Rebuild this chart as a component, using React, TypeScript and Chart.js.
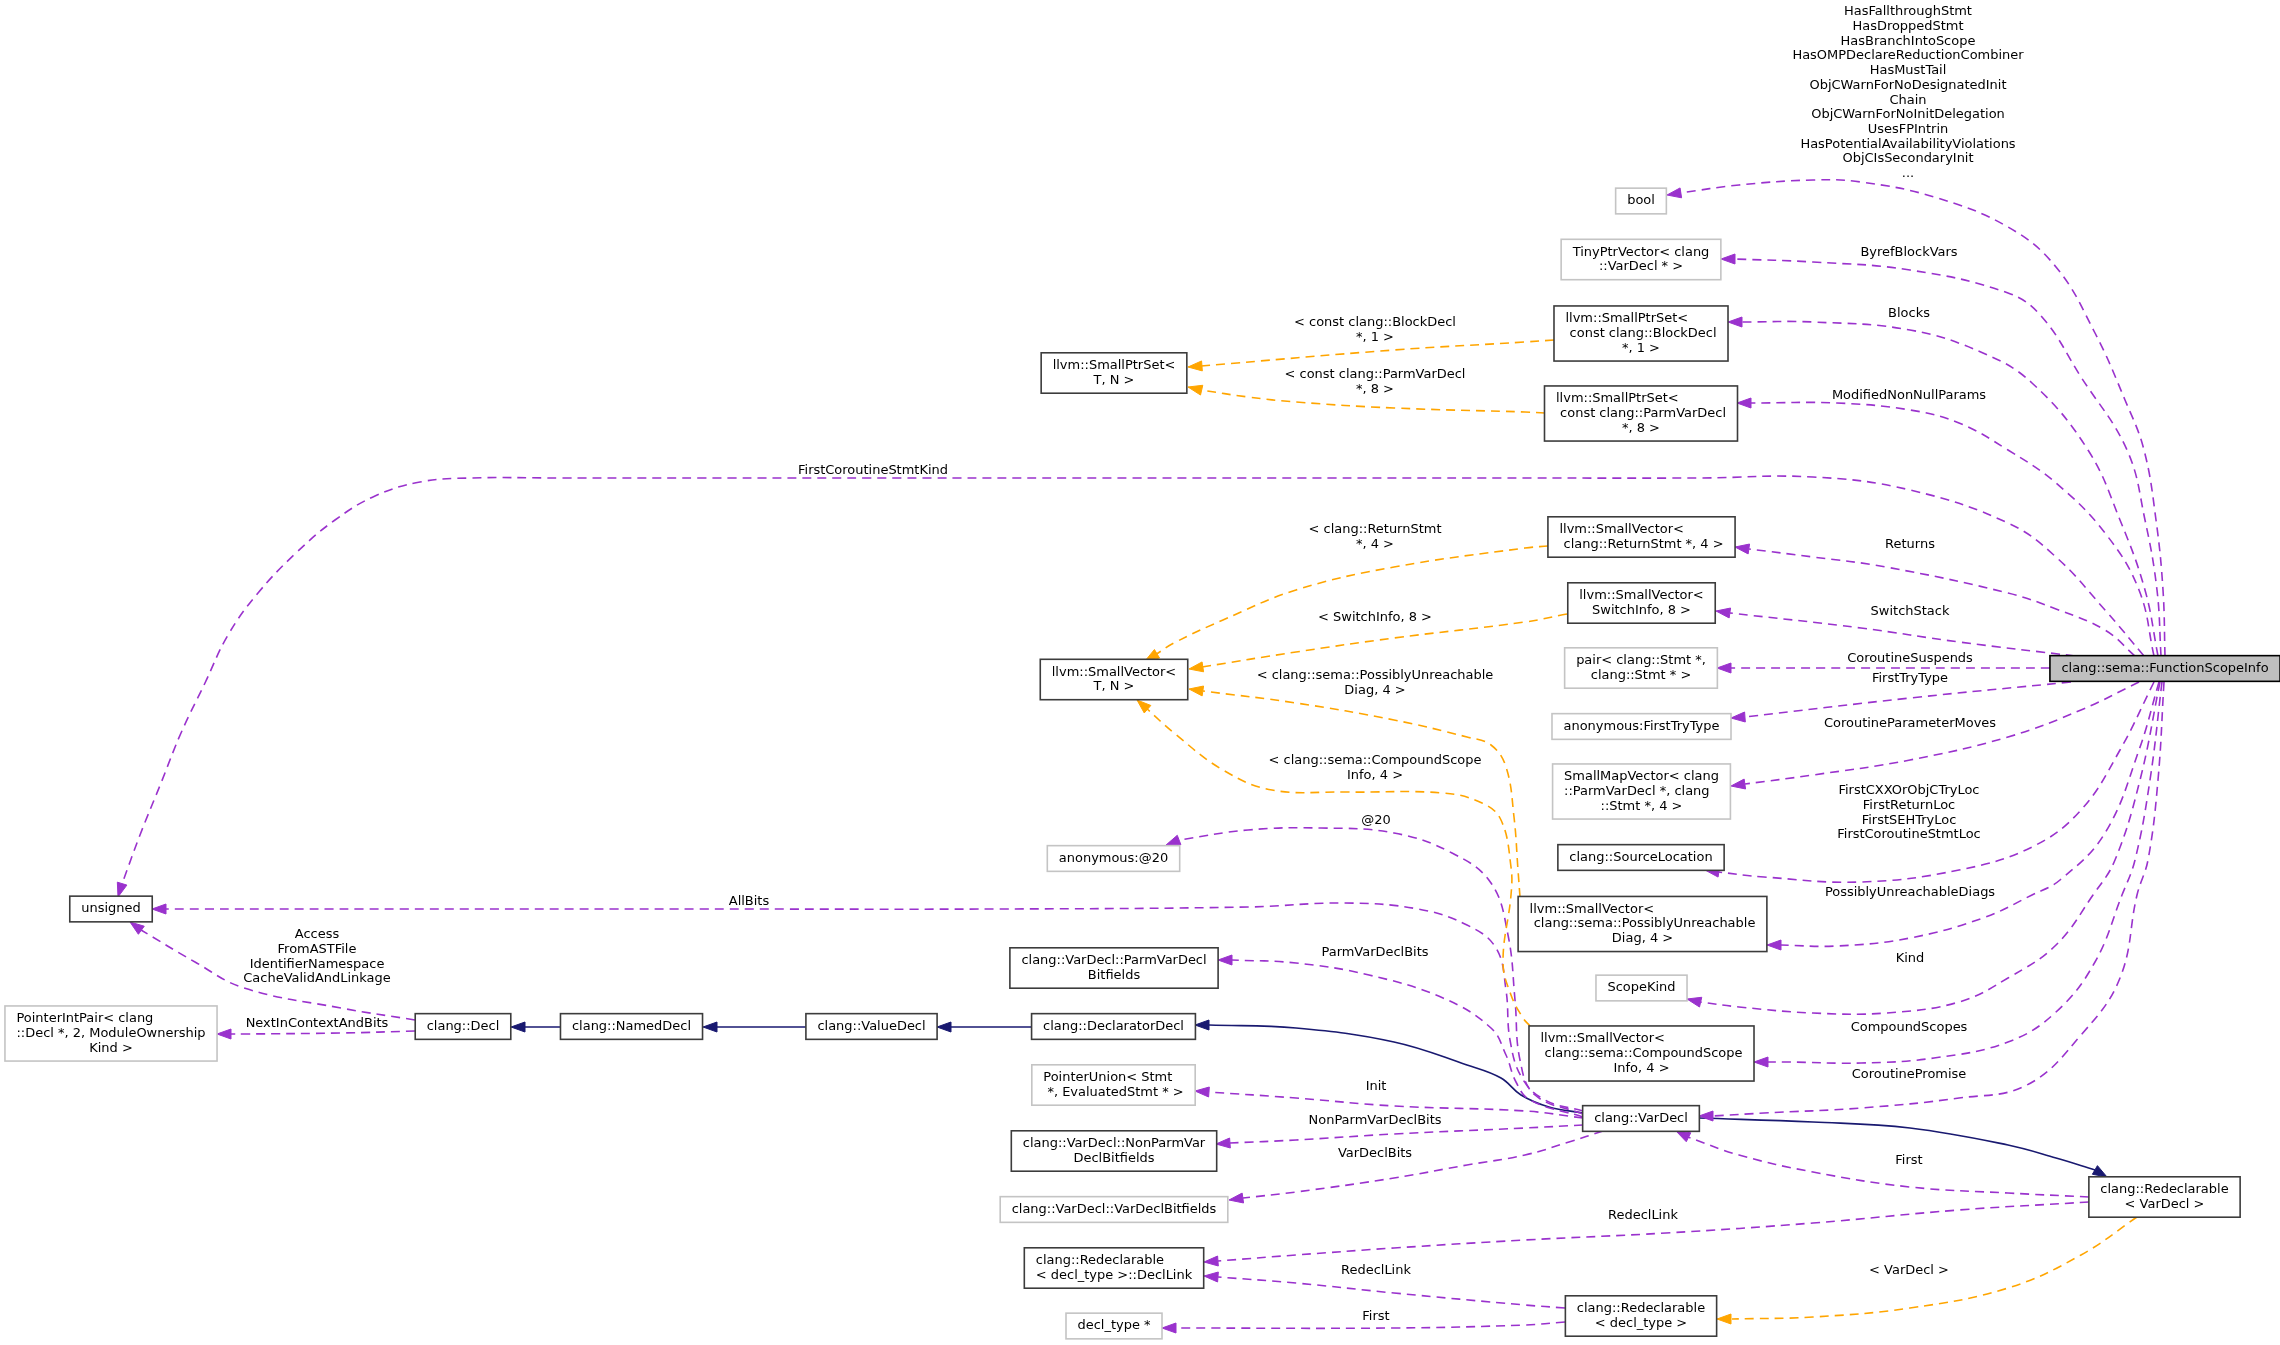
import React, { useEffect, useRef } from "react";
import { Chart, registerables, ChartConfiguration, Plugin } from "chart.js";

Chart.register(...registerables);

// ---- graph content -------------------------------------------------------

// nodes of the collaboration diagram
const nodeIds = [
  "fsi", "bool", "tinyptr", "spsBlock", "spsParm", "spsTN", "svRet", "svSwitch",
  "pair", "anonFtt", "smallMap", "srcLoc", "svPud", "scopeKind", "svCsi", "varDecl",
  "redeclVd", "redeclDt", "svTN", "anon20", "pvdBits", "declarator", "ptrUnion",
  "npvdBits", "vdBits", "declLink", "declType", "valueDecl", "namedDecl", "decl",
  "unsigned", "pip",
];

const nodeLabels: string[][] = [
  ["clang::sema::FunctionScopeInfo"],
  ["bool"],
  ["TinyPtrVector< clang", "::VarDecl * >"],
  ["llvm::SmallPtrSet<", " const clang::BlockDecl", "*, 1 >"],
  ["llvm::SmallPtrSet<", " const clang::ParmVarDecl", "*, 8 >"],
  ["llvm::SmallPtrSet<", "T, N >"],
  ["llvm::SmallVector<", " clang::ReturnStmt *, 4 >"],
  ["llvm::SmallVector<", "SwitchInfo, 8 >"],
  ["pair< clang::Stmt *,", "clang::Stmt * >"],
  ["anonymous:FirstTryType"],
  ["SmallMapVector< clang", "::ParmVarDecl *, clang", "::Stmt *, 4 >"],
  ["clang::SourceLocation"],
  ["llvm::SmallVector<", " clang::sema::PossiblyUnreachable", "Diag, 4 >"],
  ["ScopeKind"],
  ["llvm::SmallVector<", " clang::sema::CompoundScope", "Info, 4 >"],
  ["clang::VarDecl"],
  ["clang::Redeclarable", "< VarDecl >"],
  ["clang::Redeclarable", "< decl_type >"],
  ["llvm::SmallVector<", "T, N >"],
  ["anonymous:@20"],
  ["clang::VarDecl::ParmVarDecl", "Bitfields"],
  ["clang::DeclaratorDecl"],
  ["PointerUnion< Stmt", " *, EvaluatedStmt * >"],
  ["clang::VarDecl::NonParmVar", "DeclBitfields"],
  ["clang::VarDecl::VarDeclBitfields"],
  ["clang::Redeclarable", "< decl_type >::DeclLink"],
  ["decl_type *"],
  ["clang::ValueDecl"],
  ["clang::NamedDecl"],
  ["clang::Decl"],
  ["unsigned"],
  ["PointerIntPair< clang", "::Decl *, 2, ModuleOwnership", "Kind >"],
];

// focus = the documented class itself, doc = documented, undoc = not documented
const nodeKinds = [
  "focus", "undoc", "undoc", "doc", "doc", "doc", "doc", "doc",
  "undoc", "undoc", "undoc", "doc", "doc", "undoc", "doc", "doc",
  "doc", "doc", "doc", "undoc", "doc", "doc", "undoc",
  "doc", "undoc", "doc", "undoc", "doc", "doc", "doc",
  "doc", "undoc",
];

// edges: member (purple), template (orange), inherit (blue)
const edgeKinds = [
  "member", "member", "member", "member", "member", "member", "member", "member",
  "member", "member", "member", "member", "member", "member", "member",
  "template", "template", "template", "template", "template", "template", "template",
  "member", "member", "member", "inherit", "member", "member", "member", "inherit",
  "member", "member", "member", "member", "member", "member",
  "inherit", "inherit", "inherit",
];

const edgeLabels: string[][] = [
  [
    "HasFallthroughStmt", "HasDroppedStmt", "HasBranchIntoScope",
    "HasOMPDeclareReductionCombiner", "HasMustTail", "ObjCWarnForNoDesignatedInit",
    "Chain", "ObjCWarnForNoInitDelegation", "UsesFPIntrin",
    "HasPotentialAvailabilityViolations", "ObjCIsSecondaryInit", "...",
  ],
  ["ByrefBlockVars"],
  ["Blocks"],
  ["ModifiedNonNullParams"],
  ["FirstCoroutineStmtKind"],
  ["Returns"],
  ["SwitchStack"],
  ["CoroutineSuspends"],
  ["FirstTryType"],
  ["CoroutineParameterMoves"],
  ["FirstCXXOrObjCTryLoc", "FirstReturnLoc", "FirstSEHTryLoc", "FirstCoroutineStmtLoc"],
  ["PossiblyUnreachableDiags"],
  ["Kind"],
  ["CompoundScopes"],
  ["CoroutinePromise"],
  ["< const clang::BlockDecl", "*, 1 >"],
  ["< const clang::ParmVarDecl", "*, 8 >"],
  ["< clang::ReturnStmt", "*, 4 >"],
  ["< SwitchInfo, 8 >"],
  ["< clang::sema::PossiblyUnreachable", "Diag, 4 >"],
  ["< clang::sema::CompoundScope", "Info, 4 >"],
  ["< VarDecl >"],
  ["AllBits"],
  ["@20"],
  ["ParmVarDeclBits"],
  [],
  ["Init"],
  ["NonParmVarDeclBits"],
  ["VarDeclBits"],
  [],
  ["First"],
  ["RedeclLink"],
  ["RedeclLink"],
  ["First"],
  ["Access", "FromASTFile", "IdentifierNamespace", "CacheValidAndLinkage"],
  ["NextInContextAndBits"],
  [],
  [],
  [],
];

// ---- layout (graph pixels) ----------------------------------------------

const nodeCx = [
  2165, 1641, 1641, 1641, 1641, 1114, 1641.5, 1641.5,
  1641, 1641.5, 1641.5, 1641, 1642.5, 1641.5, 1641.5, 1641,
  2164.5, 1641, 1114, 1113.5, 1114, 1113.5, 1113.5,
  1114, 1114, 1114, 1114, 871.5, 631.5, 463,
  111, 111,
];
const nodeCy = [
  668.5, 201, 259.5, 333.5, 413.5, 373, 537, 603,
  668, 726.5, 791.5, 857.5, 924, 988, 1053.5, 1118.5,
  1197, 1316, 679.5, 858.5, 968, 1026.5, 1085,
  1151, 1209.5, 1268, 1326, 1026.5, 1026.5, 1026.5,
  909, 1033.5,
];

const labelAt: number[][] = [
  [1908, 12], [1909, 253], [1909, 314], [1909, 396], [873, 471], [1910, 545],
  [1910, 612], [1910, 659], [1910, 679], [1910, 724], [1909, 791], [1910, 893],
  [1910, 959], [1909, 1028], [1909, 1075],
  [1375, 323], [1375, 375], [1375, 530], [1375, 618], [1375, 676], [1375, 761],
  [1909, 1271],
  [749, 902], [1376, 821], [1375, 953], [0, 0], [1376, 1087], [1375, 1121],
  [1375, 1154], [0, 0],
  [1909, 1161], [1643, 1216], [1376, 1271], [1376, 1317], [317, 935], [317, 1024],
  [0, 0], [0, 0], [0, 0],
];

// each route runs from the source to the arrow base; the last point is the tip
const edgeRoutes: number[][][] = [
  [[2165, 656], [2163, 590], [2156, 520], [2144, 450], [2125, 400], [2095, 333], [2056, 267], [2008, 227], [1934, 197], [1861, 182], [1813, 180], [1739, 185], [1680, 193], [1667, 195]],
  [[2161, 656], [2157, 590], [2145, 520], [2127, 450], [2081, 377], [2042, 317], [2008, 293], [1910, 270], [1813, 262], [1735, 259], [1721, 259]],
  [[2158, 656], [2145, 590], [2120, 520], [2088, 450], [2032, 383], [1983, 353], [1910, 330], [1813, 322], [1742, 322], [1728, 322]],
  [[2154, 656], [2139, 590], [2105, 533], [2056, 483], [2008, 450], [1959, 423], [1910, 410], [1837, 403], [1751, 403], [1737, 403]],
  [[2144, 656], [2105, 610], [2056, 557], [2008, 523], [1910, 490], [1813, 477], [1700, 478], [1500, 478], [1300, 478], [1100, 478], [900, 478], [700, 478], [560, 478], [470, 478], [420, 482], [375, 496], [335, 520], [296, 553], [258, 593], [228, 635], [205, 683], [181, 733], [161, 783], [140, 835], [122, 884], [118, 897]],
  [[2135, 656], [2105, 630], [2056, 609], [2008, 593], [1886, 567], [1813, 557], [1749, 549], [1735, 547]],
  [[2075, 656], [1959, 642], [1861, 628], [1730, 613], [1716, 611]],
  [[2050, 668], [1731, 668], [1717, 668]],
  [[2071, 682], [1910, 698], [1745, 717], [1731, 718]],
  [[2139, 682], [2081, 710], [2008, 737], [1910, 760], [1813, 775], [1745, 784], [1731, 786]],
  [[2154, 682], [2120, 750], [2081, 810], [2032, 847], [1959, 870], [1861, 882], [1764, 877], [1718, 872], [1705, 870]],
  [[2159, 682], [2139, 750], [2105, 833], [2060, 880], [2032, 895], [1983, 918], [1910, 938], [1837, 946], [1781, 945], [1767, 945]],
  [[2160, 682], [2140, 780], [2115, 860], [2093, 895], [2056, 945], [2008, 978], [1959, 1002], [1886, 1013], [1813, 1013], [1739, 1007], [1700, 1002], [1687, 999]],
  [[2162, 682], [2150, 780], [2135, 860], [2122, 895], [2095, 962], [2056, 1012], [2008, 1042], [1934, 1058], [1861, 1063], [1788, 1062], [1768, 1062], [1754, 1062]],
  [[2164, 682], [2158, 780], [2148, 860], [2137, 895], [2120, 978], [2081, 1035], [2027, 1085], [1959, 1098], [1861, 1108], [1764, 1113], [1713, 1116], [1699, 1116]],
  [[1554, 340], [1525, 342], [1394, 350], [1201, 366], [1188, 367]],
  [[1545, 413], [1525, 412], [1394, 408], [1296, 402], [1248, 397], [1201, 390], [1188, 387]],
  [[1548, 546], [1525, 548], [1394, 567], [1296, 590], [1223, 620], [1174, 643], [1155, 655], [1145, 661]],
  [[1567, 614], [1525, 622], [1394, 638], [1296, 652], [1202, 667], [1189, 669]],
  [[1520, 897], [1518, 870], [1514, 817], [1506, 767], [1491, 745], [1467, 737], [1394, 720], [1296, 703], [1203, 691], [1189, 689]],
  [[1530, 1026], [1523, 1018], [1511, 995], [1503, 962], [1511, 895], [1511, 867], [1501, 820], [1482, 803], [1443, 793], [1345, 792], [1272, 790], [1223, 770], [1174, 733], [1145, 707], [1137, 700]],
  [[2137, 1217], [2081, 1255], [2008, 1288], [1910, 1308], [1813, 1317], [1732, 1319], [1717, 1319]],
  [[1583, 1111], [1545, 1100], [1522, 1078], [1510, 1040], [1506, 990], [1496, 948], [1467, 925], [1418, 909], [1345, 903], [1248, 907], [1000, 909], [700, 909], [400, 909], [166, 909], [152, 909]],
  [[1583, 1114], [1535, 1095], [1520, 1060], [1515, 1000], [1508, 935], [1491, 883], [1452, 853], [1394, 833], [1321, 828], [1248, 830], [1179, 840], [1166, 845]],
  [[1583, 1117], [1530, 1100], [1516, 1082], [1506, 1055], [1491, 1028], [1443, 998], [1369, 975], [1296, 963], [1232, 960], [1218, 960]],
  [[1583, 1113], [1549, 1107], [1521, 1095], [1501, 1078], [1467, 1065], [1394, 1042], [1296, 1028], [1209, 1025], [1195, 1025]],
  [[1583, 1118], [1525, 1111], [1394, 1106], [1296, 1098], [1209, 1092], [1195, 1091]],
  [[1583, 1125], [1525, 1128], [1394, 1134], [1296, 1140], [1230, 1143], [1216, 1144]],
  [[1603, 1131], [1569, 1142], [1525, 1155], [1467, 1165], [1394, 1178], [1296, 1192], [1243, 1198], [1229, 1200]],
  [[1699, 1118], [1813, 1122], [1910, 1128], [2008, 1145], [2056, 1158], [2095, 1170], [2107, 1177]],
  [[2089, 1197], [2008, 1193], [1910, 1187], [1813, 1172], [1739, 1155], [1688, 1137], [1676, 1131]],
  [[2089, 1202], [1959, 1210], [1813, 1223], [1666, 1233], [1525, 1240], [1394, 1248], [1296, 1255], [1218, 1261], [1204, 1262]],
  [[1565, 1308], [1525, 1305], [1394, 1293], [1296, 1283], [1218, 1277], [1204, 1276]],
  [[1565, 1322], [1525, 1325], [1394, 1328], [1177, 1328], [1162, 1328]],
  [[415, 1020], [341, 1008], [244, 988], [195, 962], [141, 930], [130, 922]],
  [[415, 1031], [341, 1033], [244, 1034], [231, 1034], [217, 1034]],
  [[560, 1027], [525, 1027], [511, 1027]],
  [[806, 1027], [717, 1027], [703, 1027]],
  [[1032, 1027], [951, 1027], [937, 1027]],
];

// ---- drawing ------------------------------------------------------------

const FAMILY = '"DejaVu Sans", sans-serif';
const LINE = 14.7;
const PAD_X = 11.5;
const PAD_Y = 5.5;
const EDGE_COLORS: Record<string, string> = {
  member: "#9a32cd",
  template: "#ffa500",
  inherit: "#191970",
};

// fit the font so a known label matches its width in the diagram
function fontSize(ctx: CanvasRenderingContext2D): number {
  ctx.font = `100px ${FAMILY}`;
  const w = ctx.measureText("HasFallthroughStmt").width;
  return (128 * 100) / w;
}

const graphPlugin: Plugin<"scatter"> = {
  id: "graph",
  afterDatasetsDraw(chart) {
    const { ctx } = chart;
    const xs = chart.scales.x;
    const ys = chart.scales.y;
    const px = (v: number) => xs.getPixelForValue(v);
    const py = (v: number) => ys.getPixelForValue(v);
    const size = fontSize(ctx);
    const font = `${size}px ${FAMILY}`;

    ctx.save();

    // arrow heads
    edgeRoutes.forEach((route, i) => {
      const color = EDGE_COLORS[edgeKinds[i]];
      const [bx, by] = route[route.length - 2];
      const [tx, ty] = route[route.length - 1];
      const x0 = px(bx), y0 = py(by), x1 = px(tx), y1 = py(ty);
      const dx = x1 - x0, dy = y1 - y0;
      const len = Math.hypot(dx, dy) || 1;
      const ux = dx / len, uy = dy / len;
      const head = 14, half = 5;
      const bxp = x1 - ux * head, byp = y1 - uy * head;
      ctx.beginPath();
      ctx.moveTo(x1, y1);
      ctx.lineTo(bxp - uy * half, byp + ux * half);
      ctx.lineTo(bxp + uy * half, byp - ux * half);
      ctx.closePath();
      ctx.fillStyle = color;
      ctx.strokeStyle = color;
      ctx.lineWidth = 1;
      ctx.setLineDash([]);
      ctx.fill();
      ctx.stroke();
    });

    // edge labels
    ctx.font = font;
    ctx.fillStyle = "#000";
    ctx.textAlign = "center";
    ctx.textBaseline = "middle";
    edgeLabels.forEach((lines, i) => {
      const [lx, ly] = labelAt[i];
      lines.forEach((t, k) => ctx.fillText(t, px(lx), py(ly + k * LINE)));
    });

    // nodes
    nodeIds.forEach((_, i) => {
      const lines = nodeLabels[i];
      const kind = nodeKinds[i];
      ctx.font = font;
      const tw = Math.max(...lines.map((t) => ctx.measureText(t).width));
      const w = tw + 2 * PAD_X;
      const h = lines.length * LINE + 2 * PAD_Y;
      const cx = px(nodeCx[i]);
      const cy = py(nodeCy[i]);
      const left = cx - w / 2;
      const top = cy - h / 2;
      ctx.setLineDash([]);
      ctx.fillStyle = kind === "focus" ? "#bfbfbf" : "#ffffff";
      ctx.fillRect(left, top, w, h);
      ctx.lineWidth = 1.6;
      ctx.strokeStyle =
        kind === "focus" ? "#000000" : kind === "doc" ? "#3c3c3c" : "#c4c4c4";
      ctx.strokeRect(left, top, w, h);
      ctx.fillStyle = "#000";
      ctx.textBaseline = "middle";
      lines.forEach((t, k) => {
        const y = top + PAD_Y + LINE * (k + 0.5);
        if (k === lines.length - 1) {
          ctx.textAlign = "center";
          ctx.fillText(t, cx, y);
        } else {
          ctx.textAlign = "left";
          ctx.fillText(t, left + PAD_X, y);
        }
      });
    });

    ctx.restore();
  },
};

export default function App() {
  const chartRef = useRef<HTMLCanvasElement | null>(null);
  const chartInstanceRef = useRef<Chart<"scatter"> | null>(null);

  useEffect(() => {
    if (!chartRef.current) return;
    if (chartInstanceRef.current) chartInstanceRef.current.destroy();

    const config: ChartConfiguration<"scatter"> = {
      type: "scatter",
      data: {
        datasets: edgeRoutes.map((route, i) => ({
          label: edgeLabels[i].join(" "),
          data: route.slice(0, -1).map(([x, y]) => ({ x, y })),
          showLine: true,
          borderColor: EDGE_COLORS[edgeKinds[i]],
          backgroundColor: EDGE_COLORS[edgeKinds[i]],
          borderWidth: 1.6,
          borderDash: edgeKinds[i] === "inherit" ? [] : [9, 6],
          pointRadius: 0,
          pointHoverRadius: 0,
          tension: 0.4,
          fill: false,
        })),
      },
      options: {
        animation: false,
        responsive: true,
        maintainAspectRatio: false,
        events: [],
        layout: { padding: 0 },
        plugins: {
          legend: { display: false },
          tooltip: { enabled: false },
        },
        scales: {
          x: { type: "linear", min: 0, max: 2280, display: false },
          y: { type: "linear", min: 0, max: 1345, reverse: true, display: false },
        },
      },
      plugins: [graphPlugin],
    };

    chartInstanceRef.current = new Chart(chartRef.current, config);
    return () => {
      chartInstanceRef.current?.destroy();
      chartInstanceRef.current = null;
    };
  }, []);

  return (
    <div
      style={{
        position: "fixed",
        left: 0,
        top: 0,
        width: 2280,
        height: 1345,
        background: "#ffffff",
      }}
    >
      <canvas ref={chartRef} />
    </div>
  );
}
